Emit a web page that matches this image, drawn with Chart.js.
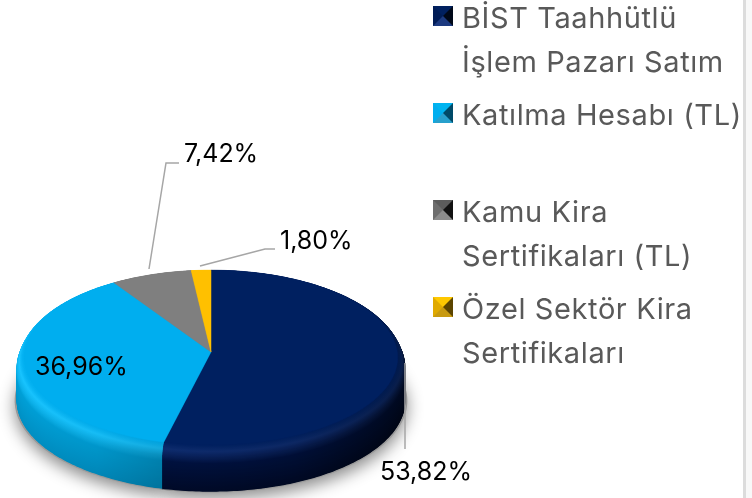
<!DOCTYPE html>
<html>
<head>
<meta charset="utf-8">
<script src="https://cdn.jsdelivr.net/npm/chart.js@4"></script>
<style>
  html, body { margin: 0; padding: 0; background: #fff; overflow: hidden; }
  #wrap { position: relative; width: 752px; height: 498px; overflow: hidden; }
  #pie { position: absolute; left: 0; top: 0; }
  #rule { position: absolute; left: 743px; top: 0; width: 3px; height: 498px; background: #dcdcdc; }
  #side { position: absolute; left: 746px; top: 0; width: 6px; height: 498px; background: #f8f8f8; }
  .item { position: absolute; left: 433px; width: 312px; }
  .icon { position: absolute; left: 0; top: 10px; width: 0; height: 0; border-style: solid; border-width: 10.5px; }
  .txt { position: absolute; left: 29px; top: 0; font: 29px/44px Inter, sans-serif; letter-spacing: 0.6px; color: #595959; white-space: pre; }
</style>
</head>
<body>
<div id="wrap">
  <canvas id="pie" width="752" height="498"></canvas>
  <div id="rule"></div>
  <div id="side"></div>
  <div id="legend"></div>
</div>
<script>
// pie data
const categories = ['BİST Taahhütlü\nİşlem Pazarı Satım', 'Katılma Hesabı (TL)', 'Kamu Kira\nSertifikaları (TL)', 'Özel Sektör Kira\nSertifikaları'];
const values = [53.82, 36.96, 7.42, 1.80];
const valueLabels = ['53,82%', '36,96%', '7,42%', '1,80%'];

// colours
const faceColors = ['#002060', '#00AEEF', '#7F7F7F', '#FFC000'];
// wall colours, top to bottom: rim light, mid, bottom
const wallColors = [['#0e2c6e', '#00113f', '#000a28'], ['#18c4ff', '#00a0d8', '#0090c4'], ['#999999', '#666666', '#444444'], ['#ffd040', '#c89600', '#a07800']];
// how far each wall darkens towards its right end
const wallShade = [0.5, 0.2, 0, 0];
// legend marker triangles: top, right, bottom, left
const iconColors = [['#00205f', '#000818', '#1c3a80', '#001c56'], ['#00b4f0', '#004a68', '#28a0cc', '#00aeef'], ['#5c5c5c', '#111111', '#8c8c8c', '#6e6e6e'], ['#ffc800', '#5c4500', '#c89a10', '#e0aa00']];

// label and legend layout
const labelBoxes = [[380, 472], [35, 367], [184, 154], [280, 241]];
const leaderLines = [[[405, 363], [405, 449]], null, [[149, 269], [166, 163], [179, 163]], [[200, 266], [265, 249], [275, 249]]];
const legendTops = [-4, 93, 190, 287];

// 3d look of the pie
const apexY = 352, tilt = 87, persp = 0.063, rimDrop = 10, wallDrop = 43;
const faceScale = 0.96;

// unit disc angle -> screen, scale grows for the rim layers
function project(el, angle, scale, drop) {
  const u = Math.cos(angle), v = Math.sin(angle);
  const w = 1 - persp * v;
  return [el.x + el.outerRadius * scale * u / w, apexY + drop + tilt * (scale / faceScale) * v / w];
}

function sectorPoints(el, scale, drop) {
  const steps = Math.max(4, Math.ceil((el.endAngle - el.startAngle) * 60));
  const pts = [];
  for (let i = 0; i <= steps; i++) {
    pts.push(project(el, el.startAngle + (el.endAngle - el.startAngle) * i / steps, scale, drop));
  }
  return pts;
}

function sectorPath(ctx, el, scale, drop) {
  const c = project(el, 0, 0, drop);
  ctx.beginPath();
  ctx.moveTo(c[0], c[1]);
  sectorPoints(el, scale, drop).forEach(p => ctx.lineTo(p[0], p[1]));
  ctx.closePath();
}

function mix(a, b, t) {
  const pa = parseInt(a.slice(1), 16), pb = parseInt(b.slice(1), 16);
  const ch = s => Math.round(((pa >> s) & 255) * (1 - t) + ((pb >> s) & 255) * t);
  return '#' + ((1 << 24) + (ch(16) << 16) + (ch(8) << 8) + ch(0)).toString(16).slice(1);
}

function wallColor(i, d) {
  const c = wallColors[i];
  const t = d / wallDrop;
  if (t < 0.1) return mix(faceColors[i], c[0], t / 0.1);
  if (t < 0.35) return mix(c[0], c[1], (t - 0.1) / 0.25);
  return mix(c[1], c[2], (t - 0.35) / 0.65);
}

// wall layer paint, darker to the right, the rim less so
function wallPaint(ctx, el, i, d, scale) {
  const base = wallColor(i, d);
  const shade = wallShade[i] * (d < rimDrop ? 0.4 + 0.6 * d / rimDrop : 1);
  const xs = sectorPoints(el, scale, d).map(p => p[0]);
  const g = ctx.createLinearGradient(Math.min(...xs), 0, Math.max(...xs), 0);
  g.addColorStop(0, base);
  g.addColorStop(0.55, mix(base, '#000000', shade * 0.3));
  g.addColorStop(1, mix(base, '#000000', shade));
  return g;
}

const pie3d = {
  id: 'pie3d',
  beforeDatasetsDraw(chart) {
    const ctx = chart.ctx;
    const arcs = chart.getDatasetMeta(0).data;

    // soft shadow under the pie
    ctx.save();
    ctx.shadowColor = 'rgba(0,0,0,0.45)';
    ctx.shadowBlur = 16;
    ctx.shadowOffsetY = 6;
    ctx.fillStyle = '#999';
    arcs.forEach(el => { sectorPath(ctx, el, 1.01, wallDrop); ctx.fill(); });
    ctx.restore();

    // wall, stacked from the bottom layer up
    for (let d = wallDrop; d >= 0; d -= 0.5) {
      const scale = d >= rimDrop ? 1 : faceScale + (1 - faceScale) * Math.sqrt(d / rimDrop);
      arcs.forEach((el, i) => {
        ctx.fillStyle = wallPaint(ctx, el, i, d, scale);
        sectorPath(ctx, el, scale, d);
        ctx.fill();
      });
    }

    // top face
    arcs.forEach((el, i) => {
      ctx.fillStyle = faceColors[i];
      ctx.strokeStyle = faceColors[i];
      ctx.lineWidth = 0.5;
      sectorPath(ctx, el, faceScale, 0);
      ctx.fill();
      ctx.stroke();
    });

    // leader lines
    ctx.strokeStyle = '#a6a6a6';
    ctx.lineWidth = 1.5;
    leaderLines.forEach(line => {
      if (!line) return;
      ctx.beginPath();
      line.forEach((p, k) => k ? ctx.lineTo(p[0], p[1]) : ctx.moveTo(p[0], p[1]));
      ctx.stroke();
    });

    // value labels
    ctx.fillStyle = '#000';
    ctx.font = '25px Inter, sans-serif';
    ctx.textAlign = 'left';
    ctx.textBaseline = 'middle';
    valueLabels.forEach((t, i) => ctx.fillText(t, labelBoxes[i][0], labelBoxes[i][1]));
    return false;
  }
};

new Chart(document.getElementById('pie'), {
  type: 'pie',
  data: {
    labels: categories,
    datasets: [{ data: values, backgroundColor: faceColors, borderWidth: 0 }]
  },
  options: {
    responsive: false,
    animation: false,
    layout: { padding: { left: 17, right: 347, top: 0, bottom: 76 } },
    plugins: { legend: { display: false }, tooltip: { enabled: false } }
  },
  plugins: [pie3d]
});

// legend on the right
const legend = document.getElementById('legend');
categories.forEach((name, i) => {
  const item = document.createElement('div');
  item.className = 'item';
  item.style.top = legendTops[i] + 'px';
  const icon = document.createElement('div');
  icon.className = 'icon';
  icon.style.borderColor = iconColors[i].join(' ');
  const txt = document.createElement('div');
  txt.className = 'txt';
  txt.textContent = name;
  item.appendChild(icon);
  item.appendChild(txt);
  legend.appendChild(item);
});
</script>
</body>
</html>
